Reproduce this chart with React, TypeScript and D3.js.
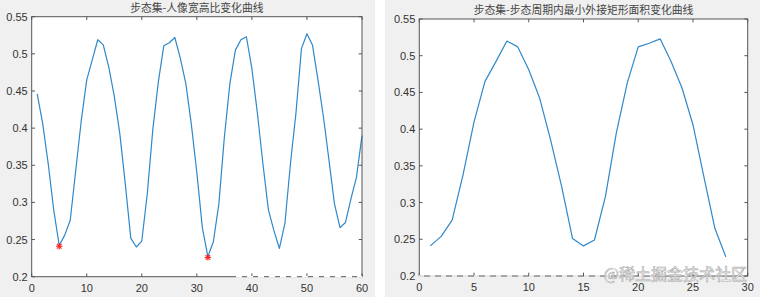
import React from "react";
import * as d3 from "d3";

const leftTitle = "步态集-人像宽高比变化曲线";
const rightTitle = "步态集-步态周期内最小外接矩形面积变化曲线";

const leftValues = [
  0.446, 0.406, 0.352, 0.29, 0.242, 0.256, 0.276, 0.343, 0.41, 0.465,
  0.492, 0.519, 0.512, 0.482, 0.443, 0.393, 0.325, 0.252, 0.24, 0.248,
  0.312, 0.398, 0.462, 0.511, 0.515, 0.522, 0.494, 0.46, 0.405, 0.34,
  0.266, 0.227, 0.247, 0.298, 0.388, 0.46, 0.505, 0.519, 0.523, 0.48,
  0.42, 0.352, 0.29, 0.262, 0.238, 0.272, 0.352, 0.42, 0.507, 0.527,
  0.512, 0.465, 0.415, 0.357, 0.298, 0.266, 0.273, 0.305, 0.334, 0.39,
];
const markerX = [5, 32];
const markerY = [0.241, 0.226];

const rightValues = [
  0.241, 0.254, 0.276, 0.338, 0.41, 0.465, 0.492, 0.52, 0.512, 0.481,
  0.442, 0.385, 0.322, 0.251, 0.241, 0.249, 0.308, 0.395, 0.463, 0.512,
  0.517, 0.523, 0.492, 0.456, 0.406, 0.335, 0.265, 0.226,
];

const yTicks = [0.2, 0.25, 0.3, 0.35, 0.4, 0.45, 0.5, 0.55];
const yTickLabels = ["0.2", "0.25", "0.3", "0.35", "0.4", "0.45", "0.5", "0.55"];
const leftXTicks = [0, 10, 20, 30, 40, 50, 60];
const rightXTicks = [0, 5, 10, 15, 20, 25, 30];

const FONT = "'Liberation Sans', Arial, sans-serif";
const CJK = "'Noto Sans CJK SC', sans-serif";
const LINE = "#2f88ca";
const AXIS = "#555";
const TXT = "#333";

type PanelProps = {
  bx: number; bw: number;
  left: number; right: number; top: number; bottom: number;
  xMax: number; xTicks: number[]; values: number[]; title: string;
  children?: (x: d3.ScaleLinear<number, number>, y: d3.ScaleLinear<number, number>) => React.ReactNode;
};

function Panel(p: PanelProps) {
  const x = d3.scaleLinear().domain([0, p.xMax]).range([p.left, p.right]);
  const y = d3.scaleLinear().domain([0.2, 0.55]).range([p.bottom, p.top]);
  const line = d3
    .line<number>()
    .x((_, i) => x(i + 1))
    .y((d) => y(d));
  const tl = 3.3;
  return (
    <g>
      <rect x={p.bx} y={0} width={p.bw} height={297} fill="#f0f0f0" />
      <rect x={p.left} y={p.top} width={p.right - p.left} height={p.bottom - p.top} fill="#fff" />
      <text x={(p.left + p.right) / 2} y={p.top - 4.8} textAnchor="middle" fontFamily={CJK} fontSize={10.8} fill="#444">
        {p.title}
      </text>
      <path d={line(p.values) || ""} fill="none" stroke={LINE} strokeWidth={1.2} strokeLinejoin="round" />
      {p.children && p.children(x, y)}
      <rect x={p.left} y={p.top} width={p.right - p.left} height={p.bottom - p.top} fill="none" stroke={AXIS} strokeWidth={1} />
      {yTicks.map((t, i) => (
        <g key={"y" + i}>
          <line x1={p.left} x2={p.left + tl} y1={y(t)} y2={y(t)} stroke={AXIS} />
          <line x1={p.right} x2={p.right - tl} y1={y(t)} y2={y(t)} stroke={AXIS} />
          <text x={p.left - 4} y={y(t)} dy="0.36em" textAnchor="end" fontFamily={FONT} fontSize={11} fill={TXT}>
            {yTickLabels[i]}
          </text>
        </g>
      ))}
      {p.xTicks.map((t, i) => (
        <g key={"x" + i}>
          <line x1={x(t)} x2={x(t)} y1={p.bottom} y2={p.bottom - tl} stroke={AXIS} />
          <line x1={x(t)} x2={x(t)} y1={p.top} y2={p.top + tl} stroke={AXIS} />
          <text x={x(t)} y={p.bottom + 15} textAnchor="middle" fontFamily={FONT} fontSize={11} fill={TXT}>
            {String(t)}
          </text>
        </g>
      ))}
    </g>
  );
}

export default function App() {
  return (
    <svg width={760} height={297} style={{ position: "absolute", left: 0, top: 0 }}>
      <rect x={0} y={0} width={760} height={297} fill="#fff" />
      <Panel bx={0} bw={375} left={31.7} right={362} top={16.7} bottom={276.7} xMax={60} xTicks={leftXTicks} values={leftValues} title={leftTitle}>
        {(x, y) =>
          markerX.map((mx, i) => {
            const cx = x(mx);
            const cy = y(markerY[i]);
            const r = 3.2;
            const d = r * 0.72;
            return (
              <g key={"m" + i} stroke="#ff2020" strokeWidth={1.1}>
                <line x1={cx - r} x2={cx + r} y1={cy} y2={cy} />
                <line x1={cx} x2={cx} y1={cy - r} y2={cy + r} />
                <line x1={cx - d} x2={cx + d} y1={cy - d} y2={cy + d} />
                <line x1={cx - d} x2={cx + d} y1={cy + d} y2={cy - d} />
              </g>
            );
          })
        }
      </Panel>
      <Panel bx={385} bw={375} left={419.3} right={747.7} top={19} bottom={276} xMax={30} xTicks={rightXTicks} values={rightValues} title={rightTitle} />
      <line x1={236} x2={362} y1={276.7} y2={276.7} stroke="#fff" strokeWidth={1.5} strokeDasharray="6 5" />
      <line x1={419} x2={660} y1={276} y2={276} stroke="#fff" strokeWidth={1.5} strokeDasharray="5 6" />
      <text x={747} y={280} textAnchor="end" fontFamily={CJK} fontSize={16} fill="#fff" stroke="#aaa" strokeWidth={0.6}>
        @稀土掘金技术社区
      </text>
    </svg>
  );
}
